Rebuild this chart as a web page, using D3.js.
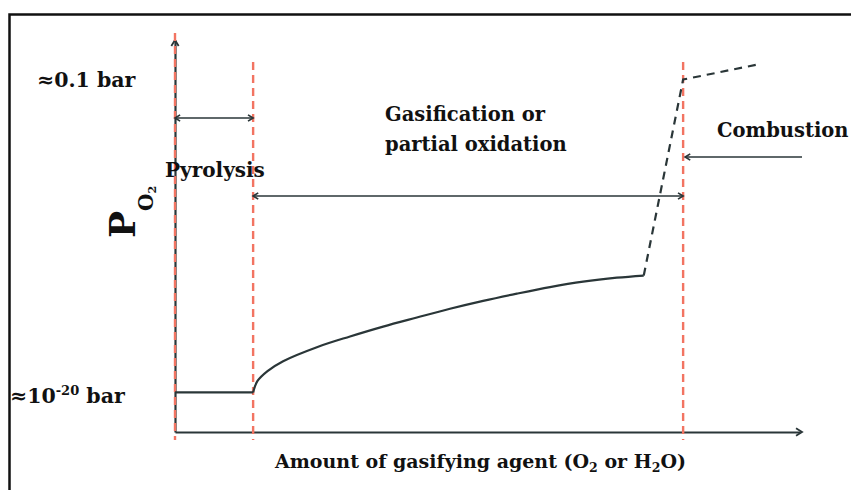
<!DOCTYPE html>
<html>
<head>
<meta charset="utf-8">
<script src="https://cdn.jsdelivr.net/npm/d3@7/dist/d3.min.js"></script>
<style>
  html, body { margin: 0; padding: 0; background: #fff; }
  svg text { font-family: "DejaVu Serif", "Liberation Serif", serif; font-weight: bold; fill: #111; }
</style>
</head>
<body>
<svg id="chart" width="851" height="490"></svg>
<script>
// Amount of gasifying agent (arbitrary units, 0-100) and log10(P_O2 / bar)
const stageBounds = [0, 12.5, 81.3];           // start of pyrolysis, gasification, combustion
const stageNames = ["Pyrolysis", "Gasification or partial oxidation", "Combustion"];
const pyrolysisX = [0, 12.5];
const pyrolysisLogP = [-20, -20];
const gasificationX = [12.5, 13.2, 14.8, 17.3, 22.7, 28.0, 33.3, 38.7, 44.0, 49.3, 54.7, 60.0, 65.3, 70.7, 75.0];
const gasificationLogP = [-20, -19.3, -18.7, -18.1, -17.25, -16.6, -16.0, -15.45, -14.92, -14.44, -14.0, -13.6, -13.27, -13.03, -12.90];
const combustionX = [75.0, 81.3, 93.1];
const combustionLogP = [-12.90, -1.0, -0.1];
const levelValues = [-1, -20];                 // labelled pressure levels
const levelLabels = ["≈0.1 bar", "≈10|-20| bar"];

const svg = d3.select("#chart");
const dark = "#2a3638";
const red = "#f27462";

const x = d3.scaleLinear().domain([0, 100]).range([175, 800]);
const y = d3.scaleLinear().domain([-22.4, 1.4]).range([432, 40]);

// outer frame (top and left edges)
svg.append("path")
  .attr("d", "M9.5,490 V14.5 H851")
  .attr("fill", "none").attr("stroke", "#111").attr("stroke-width", 2.5);

// axes without ticks
const xAxis = svg.append("g").attr("transform", `translate(0,${y.range()[0]})`)
  .call(d3.axisBottom(x).tickValues([]).tickSizeOuter(0));
const yAxis = svg.append("g").attr("transform", `translate(${x.range()[0]},0)`)
  .call(d3.axisLeft(y).tickValues([]).tickSizeOuter(0));
[xAxis, yAxis].forEach(g => g.select(".domain").attr("stroke", dark).attr("stroke-width", 2.2));

// open chevron arrowhead at (px,py) pointing along angle (radians)
function chevron(px, py, ang, size = 7) {
  const a1 = ang + Math.PI - 0.55, a2 = ang + Math.PI + 0.55;
  return `M${px + size * Math.cos(a1)},${py + size * Math.sin(a1)} L${px},${py} L${px + size * Math.cos(a2)},${py + size * Math.sin(a2)}`;
}
const heads = svg.append("g").attr("fill", "none").attr("stroke", dark).attr("stroke-width", 1.8);
heads.append("path").attr("d", chevron(x.range()[1] + 2, y.range()[0], 0));
heads.append("path").attr("d", chevron(x.range()[0], y.range()[1], -Math.PI / 2));

// stage boundaries
svg.append("g").selectAll("line").data(stageBounds).join("line")
  .attr("x1", d => x(d)).attr("x2", d => x(d))
  .attr("y1", (d, i) => i === 0 ? 33 : 62).attr("y2", 440)
  .attr("stroke", red).attr("stroke-width", 2.4)
  .attr("stroke-dasharray", "8,5");

// stage span arrows
function span(x1, x2, yy, both) {
  const g = svg.append("g").attr("fill", "none").attr("stroke", dark).attr("stroke-width", 1.7);
  g.append("line").attr("x1", x1).attr("x2", x2).attr("y1", yy).attr("y2", yy);
  g.append("path").attr("d", chevron(x1, yy, Math.PI, 6));
  if (both) g.append("path").attr("d", chevron(x2, yy, 0, 6));
}
span(x(stageBounds[0]), x(stageBounds[1]), 118, true);
span(x(stageBounds[1]), x(stageBounds[2]), 196, true);
span(x(stageBounds[2]) + 2, 802, 157, false);

// P_O2 profile
const zip = (a, b) => a.map((v, i) => [v, b[i]]);
const straight = d3.line().x(d => x(d[0])).y(d => y(d[1]));
const smooth = d3.line().x(d => x(d[0])).y(d => y(d[1])).curve(d3.curveCatmullRom.alpha(0.5));
svg.append("path").datum(zip(pyrolysisX, pyrolysisLogP))
  .attr("d", straight).attr("fill", "none").attr("stroke", dark).attr("stroke-width", 2.2);
svg.append("path").datum(zip(gasificationX, gasificationLogP))
  .attr("d", smooth).attr("fill", "none").attr("stroke", dark).attr("stroke-width", 2.2);
svg.append("path").datum(zip(combustionX, combustionLogP))
  .attr("d", straight).attr("fill", "none")
  .attr("stroke", dark).attr("stroke-width", 2.2).attr("stroke-dasharray", "8,6");

// pressure level labels
const lv = svg.append("g");
lv.append("text").attr("x", 37).attr("y", y(levelValues[0]) + 7).attr("font-size", 20.5).text(levelLabels[0]);
const low = lv.append("text").attr("x", 10).attr("y", y(levelValues[1]) + 11).attr("font-size", 20.5);
const parts = levelLabels[1].split("|");
low.append("tspan").text(parts[0]);
low.append("tspan").attr("font-size", 13).attr("dy", -8).text(parts[1]);
low.append("tspan").attr("dy", 8).text(parts[2]);

// stage labels
svg.append("text").attr("x", 165).attr("y", 177).attr("font-size", 20).text(stageNames[0]);
const gas = svg.append("text").attr("font-size", 19.5);
gas.append("tspan").attr("x", 385).attr("y", 121).text("Gasification or");
gas.append("tspan").attr("x", 385).attr("y", 151).text("partial oxidation");
svg.append("text").attr("x", 717).attr("y", 137).attr("font-size", 19.5).text(stageNames[2]);

// x axis title
const xt = svg.append("text").attr("x", 275).attr("y", 468).attr("font-size", 19);
xt.append("tspan").text("Amount of gasifying agent (O");
xt.append("tspan").attr("font-size", 12.5).attr("dy", 4).text("2");
xt.append("tspan").attr("dy", -4).text(" or H");
xt.append("tspan").attr("font-size", 12.5).attr("dy", 4).text("2");
xt.append("tspan").attr("dy", -4).text("O)");

// y axis title
const yt = svg.append("text").attr("transform", "translate(135,238) rotate(-90)").attr("font-size", 36);
yt.append("tspan").text("P");
yt.append("tspan").attr("font-size", 20).attr("dy", 18).text("O");
yt.append("tspan").attr("font-size", 11).attr("dy", 3).text("2");
</script>
</body>
</html>
